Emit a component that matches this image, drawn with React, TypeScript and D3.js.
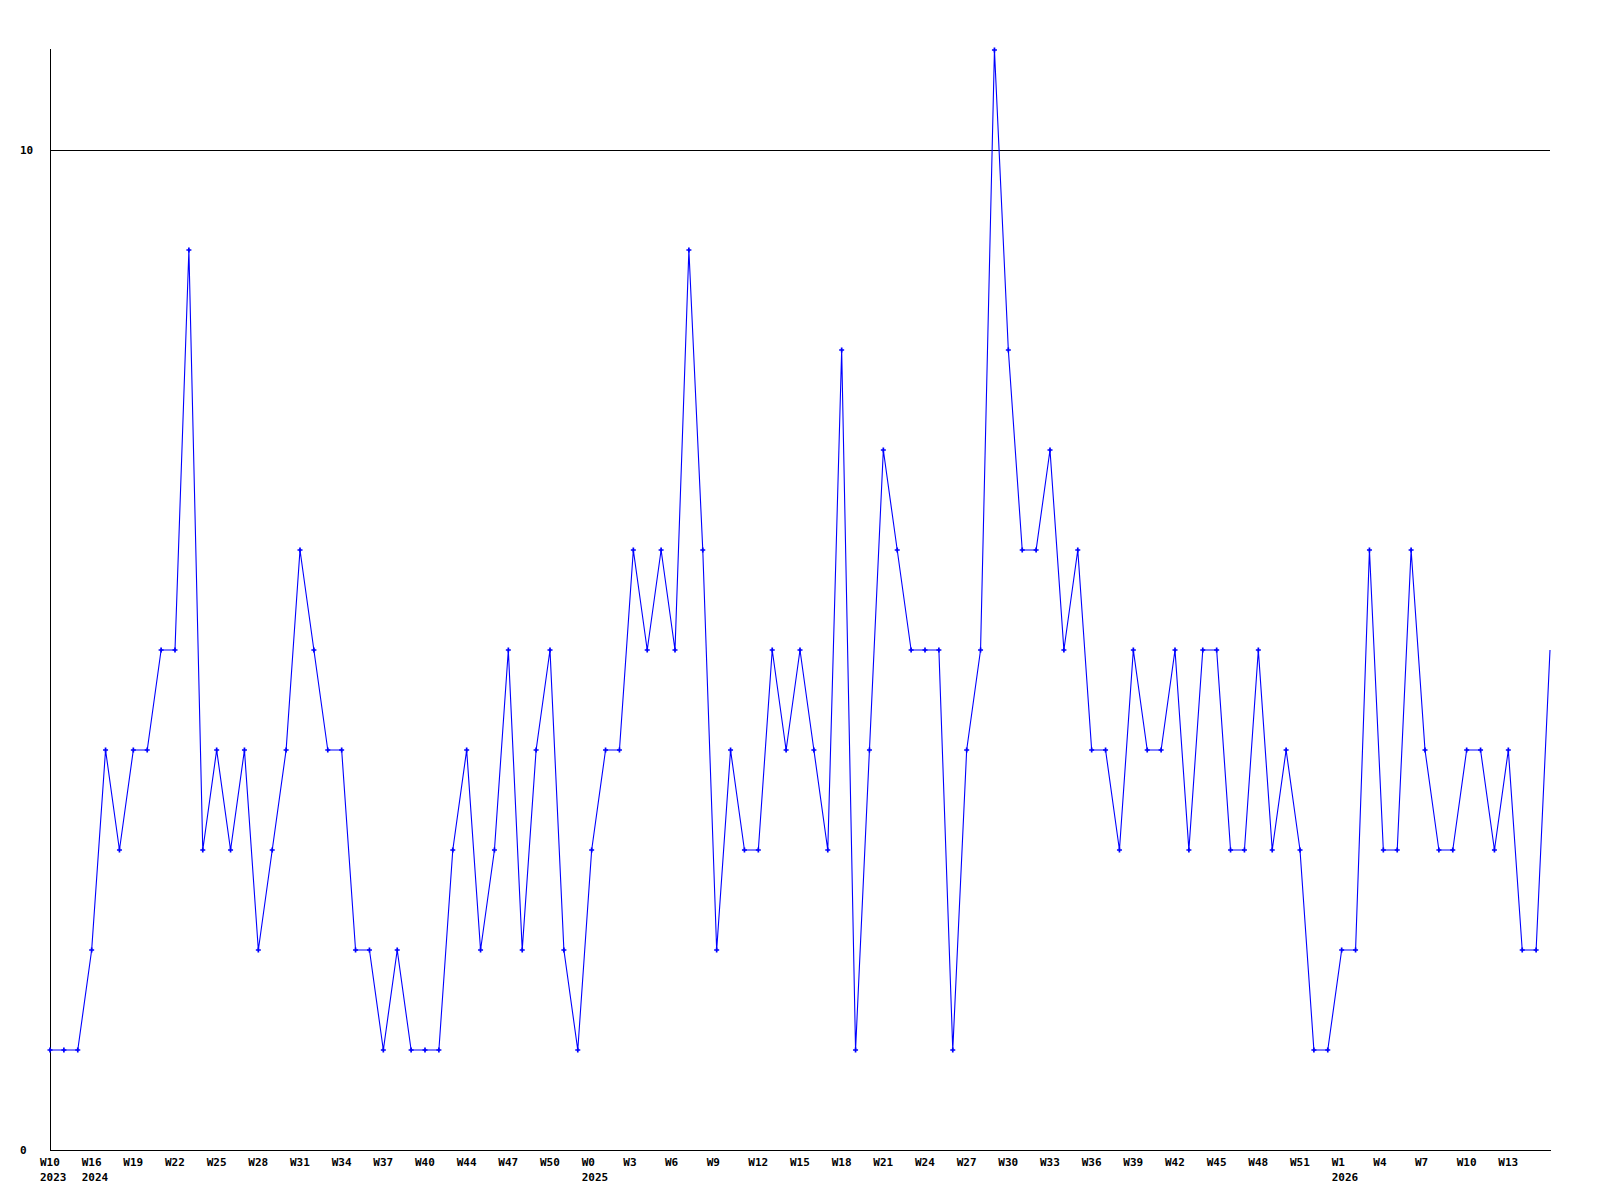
import React from "react";
import * as d3 from "d3";

const values: number[] = [
  1, 1, 1, 2, 4, 3, 4, 4, 5, 5,
  9, 3, 4, 3, 4, 2, 3, 4, 6, 5,
  4, 4, 2, 2, 1, 2, 1, 1, 1, 3,
  4, 2, 3, 5, 2, 4, 5, 2, 1, 3,
  4, 4, 6, 5, 6, 5, 9, 6, 2, 4,
  3, 3, 5, 4, 5, 4, 3, 8, 1, 4,
  7, 6, 5, 5, 5, 1, 4, 5, 11, 8,
  6, 6, 7, 5, 6, 4, 4, 3, 5, 4,
  4, 5, 3, 5, 5, 3, 3, 5, 3, 4,
  3, 1, 1, 2, 2, 6, 3, 3, 6, 4,
  3, 3, 4, 4, 3, 4, 2, 2, 5,
];

const tickStep = 3;
const tickLabels: string[] = [
  "W10", "W16", "W19", "W22", "W25", "W28", "W31", "W34", "W37", "W40",
  "W44", "W47", "W50", "W0", "W3", "W6", "W9", "W12", "W15", "W18",
  "W21", "W24", "W27", "W30", "W33", "W36", "W39", "W42", "W45", "W48",
  "W51", "W1", "W4", "W7", "W10", "W13",
];
const yearLabels: string[] = [
  "2023", "2024", "", "", "", "", "", "", "", "",
  "", "", "", "2025", "", "", "", "", "", "",
  "", "", "", "", "", "", "", "", "", "",
  "", "2026", "", "", "", "",
];
const yTicks: number[] = [0, 10];

const W = 1600;
const H = 1200;
const left = 50;
const right = 1550;
const top = 50;
const bottom = 1150;
const font = "'DejaVu Sans Mono', monospace";

export default function App() {
  const x = d3.scaleLinear().domain([0, values.length - 1]).range([left, right]);
  const y = d3.scaleLinear().domain([0, 11]).range([bottom, top]);
  const line = d3
    .line<number>()
    .x((_, i) => x(i))
    .y((d) => y(d));

  return (
    <svg
      width={W}
      height={H}
      style={{ position: "absolute", left: 0, top: 0, background: "#fff" }}
    >
      <rect x={0} y={0} width={W} height={H} fill="#fff" />
      {yTicks
        .filter((t) => t !== 0)
        .map((t) => (
          <line
            key={"g" + t}
            x1={left}
            x2={right}
            y1={Math.round(y(t)) + 0.5}
            y2={Math.round(y(t)) + 0.5}
            stroke="#000"
            strokeWidth={1}
            shapeRendering="crispEdges"
          />
        ))}
      <line x1={left + 0.5} x2={left + 0.5} y1={top - 1} y2={bottom + 0.5} stroke="#000" shapeRendering="crispEdges" />
      <line x1={left} x2={right + 1} y1={bottom + 0.5} y2={bottom + 0.5} stroke="#000" shapeRendering="crispEdges" />
      {yTicks.map((t) => (
        <text
          key={"y" + t}
          x={20}
          y={y(t) + 4}
          fontFamily={font}
          fontWeight="bold"
          fontSize={11}
          fill="#000"
        >
          {t}
        </text>
      ))}
      {tickLabels.map((lab, k) => {
        const xi = x(k * tickStep) - 10;
        return (
          <g key={"x" + k}>
            <text x={xi} y={1166} fontFamily={font} fontWeight="bold" fontSize={11} fill="#000">
              {lab}
            </text>
            {yearLabels[k] ? (
              <text x={xi} y={1181} fontFamily={font} fontWeight="bold" fontSize={11} fill="#000">
                {yearLabels[k]}
              </text>
            ) : null}
          </g>
        );
      })}
      <path d={line(values) || ""} fill="none" stroke="#0000ff" strokeWidth={1.1} />
      {values.slice(0, values.length - 1).map((v, i) => (
        <path
          key={"m" + i}
          transform={`translate(${x(i)},${y(v)})`}
          d="M-2.5,0H2.5M0,-2.5V2.5"
          stroke="#0000ff"
          strokeWidth={1.7}
          fill="none"
        />
      ))}
    </svg>
  );
}
